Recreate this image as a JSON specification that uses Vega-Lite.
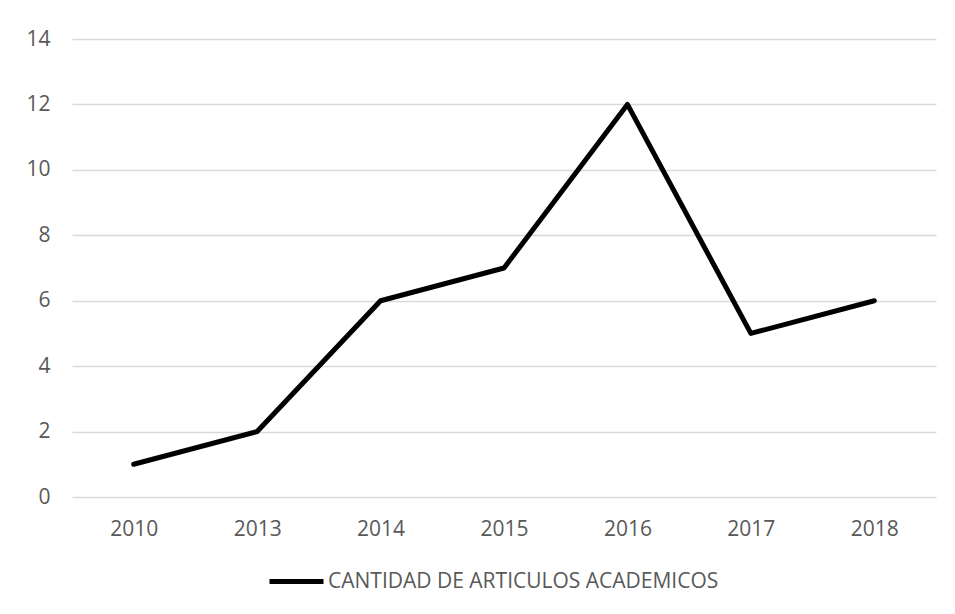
{
  "$schema": "https://vega.github.io/schema/vega-lite/v6.json",
  "autosize": "none",
  "width": 864,
  "height": 458,
  "padding": {"left": 72, "top": 39, "right": 19, "bottom": 117},
  "background": "white",
  "config": {
    "view": {"stroke": null},
    "font": "Open Sans"
  },
  "data": {
    "values": [
      {"year": "2010", "count": 1, "serie": "CANTIDAD DE ARTICULOS ACADEMICOS"},
      {"year": "2013", "count": 2, "serie": "CANTIDAD DE ARTICULOS ACADEMICOS"},
      {"year": "2014", "count": 6, "serie": "CANTIDAD DE ARTICULOS ACADEMICOS"},
      {"year": "2015", "count": 7, "serie": "CANTIDAD DE ARTICULOS ACADEMICOS"},
      {"year": "2016", "count": 12, "serie": "CANTIDAD DE ARTICULOS ACADEMICOS"},
      {"year": "2017", "count": 5, "serie": "CANTIDAD DE ARTICULOS ACADEMICOS"},
      {"year": "2018", "count": 6, "serie": "CANTIDAD DE ARTICULOS ACADEMICOS"}
    ]
  },
  "mark": {"type": "line", "strokeWidth": 5, "strokeCap": "round", "strokeJoin": "round"},
  "encoding": {
    "x": {
      "field": "year",
      "type": "ordinal",
      "scale": {"type": "point", "padding": 0.5},
      "axis": {
        "title": null,
        "labelAngle": 0,
        "ticks": false,
        "domain": false,
        "labelPadding": 21,
        "labelFontSize": 21,
        "labelColor": "#595959",
        "labelFont": "Open Sans"
      }
    },
    "y": {
      "field": "count",
      "type": "quantitative",
      "scale": {"domain": [0, 14]},
      "axis": {
        "title": null,
        "values": [0, 2, 4, 6, 8, 10, 12, 14],
        "ticks": false,
        "domain": false,
        "gridColor": "#d9d9d9",
        "gridWidth": 1.3,
        "labelPadding": 22,
        "labelFontSize": 21,
        "labelColor": "#595959",
        "labelFont": "Open Sans"
      }
    },
    "color": {
      "field": "serie",
      "type": "nominal",
      "scale": {"range": ["#000000"]},
      "legend": {
        "title": null,
        "orient": "none",
        "legendX": 195,
        "legendY": 513,
        "symbolType": "stroke",
        "symbolSize": 2916,
        "symbolStrokeWidth": 5,
        "labelFontSize": 21,
        "labelLimit": 0,
        "labelColor": "#595959",
        "labelFont": "Open Sans",
        "labelOffset": 2
      }
    }
  }
}
